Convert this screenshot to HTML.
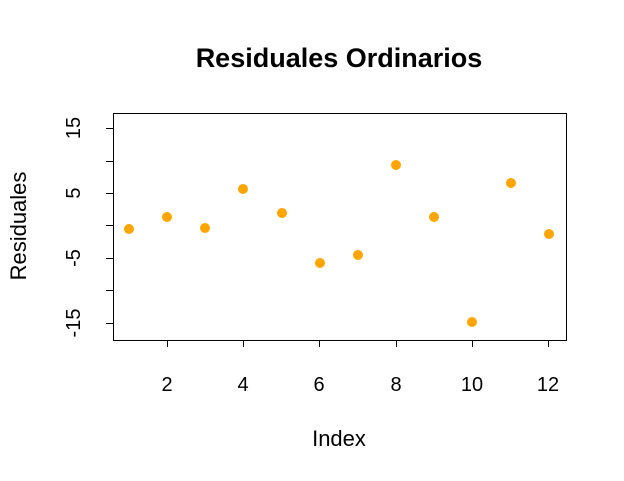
<!DOCTYPE html>
<html><head><meta charset="utf-8"><style>
html,body{margin:0;padding:0;background:#fff;}
svg{display:block;font-family:"Liberation Sans",Arial,sans-serif;}
</style></head><body>
<svg width="624" height="481" viewBox="0 0 624 481" xmlns="http://www.w3.org/2000/svg">
<rect width="624" height="481" fill="#fff"/>
<text x="339" y="67" text-anchor="middle" font-size="27" font-weight="bold" fill="#000">Residuales Ordinarios</text>
<rect x="113.5" y="113.5" width="453" height="227" fill="none" stroke="#000" stroke-width="1"/>
<g stroke="#000" stroke-width="1">
<line x1="167.5" y1="340" x2="167.5" y2="347"/>
<line x1="243.5" y1="340" x2="243.5" y2="347"/>
<line x1="319.5" y1="340" x2="319.5" y2="347"/>
<line x1="396.5" y1="340" x2="396.5" y2="347"/>
<line x1="472.5" y1="340" x2="472.5" y2="347"/>
<line x1="548.5" y1="340" x2="548.5" y2="347"/>
<line x1="113" y1="128.5" x2="106" y2="128.5"/>
<line x1="113" y1="161.5" x2="106" y2="161.5"/>
<line x1="113" y1="193.5" x2="106" y2="193.5"/>
<line x1="113" y1="225.5" x2="106" y2="225.5"/>
<line x1="113" y1="258.5" x2="106" y2="258.5"/>
<line x1="113" y1="290.5" x2="106" y2="290.5"/>
<line x1="113" y1="323.5" x2="106" y2="323.5"/>
</g>
<g font-size="20" fill="#000" text-anchor="middle">
<text x="167" y="391">2</text><text x="243" y="391">4</text><text x="319" y="391">6</text>
<text x="396" y="391">8</text><text x="472" y="391">10</text><text x="548" y="391">12</text>
<text transform="translate(80,128) rotate(-90)">15</text>
<text transform="translate(80,193) rotate(-90)">5</text>
<text transform="translate(80,258) rotate(-90)">-5</text>
<text transform="translate(80,323) rotate(-90)">-15</text>
</g>
<g font-size="22" fill="#000" text-anchor="middle">
<text x="339" y="446">Index</text>
<text transform="translate(26,226) rotate(-90)">Residuales</text>
</g>
<g fill="#FFA500">
<circle cx="129" cy="229" r="5"/><circle cx="167" cy="217" r="5"/><circle cx="205" cy="228" r="5"/>
<circle cx="243" cy="189" r="5"/><circle cx="282" cy="213" r="5"/><circle cx="320" cy="263" r="5"/>
<circle cx="358" cy="255" r="5"/><circle cx="396" cy="165" r="5"/><circle cx="434" cy="217" r="5"/>
<circle cx="472" cy="322" r="5"/><circle cx="511" cy="183" r="5"/><circle cx="549" cy="234" r="5"/>
</g>
</svg>
</body></html>
